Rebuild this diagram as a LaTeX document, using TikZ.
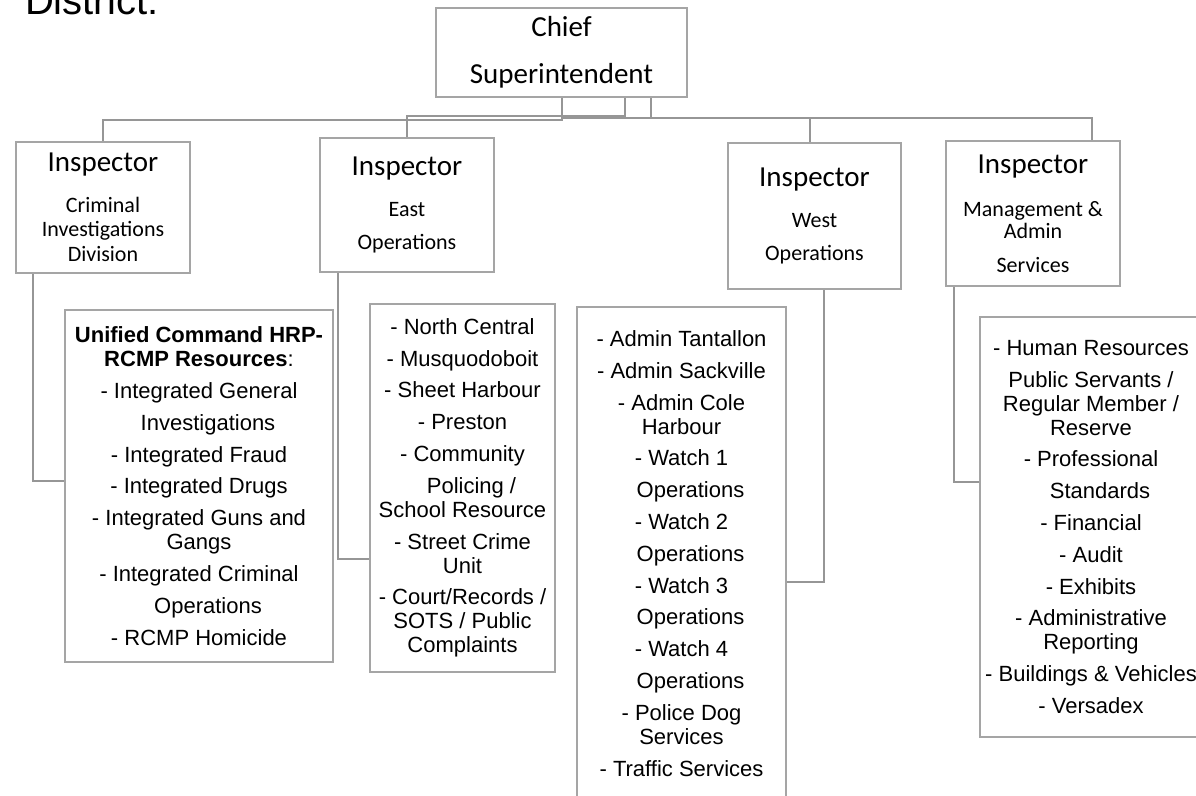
\documentclass[tikz,border=0pt]{standalone}
\usepackage{fontspec}
\setmainfont{Liberation Sans}
\newfontfamily\calibri{Carlito}
\definecolor{boxgray}{RGB}{165,165,165}
\definecolor{linkgray}{RGB}{150,150,150}
\tikzset{
  headbox/.style={draw=boxgray, line width=1.2pt, inner sep=0pt, align=center,
    font=\calibri\fontsize{11}{12}\selectfont},
  listbox/.style={draw=boxgray, line width=1.2pt, inner sep=0pt, align=center,
    font=\fontsize{11}{12}\selectfont},
  link/.style={draw=linkgray, line width=1.2pt}
}
\newcommand{\insp}{{\fontsize{14.5}{12}\selectfont Inspector}}
\newcommand{\indl}{\hspace*{9pt}}

\begin{document}
\begin{tikzpicture}[x=0.5pt, y=-0.5pt]
\useasboundingbox (0,0) rectangle (1196,796);

\node[anchor=base west, font=\fontsize{20}{24}\selectfont] (district) at (18,15) {District:};

% chief
\node[headbox, minimum width=125.5pt, minimum height=44.5pt,
  font=\calibri\fontsize{14.5}{23.5}\selectfont] (chief) at (561.5,52.5) {Chief\\Superintendent};

% inspectors
\node[headbox, minimum width=87pt, minimum height=65.5pt] (cid) at (103,207.5)
  {\insp\\[8.5pt]Criminal\\Investigations\\[0.5pt]Division};
\node[headbox, minimum width=87pt, minimum height=67pt] (east) at (407,205)
  {\insp\\[8.5pt]East\\[4.5pt]Operations};
\node[headbox, minimum width=86.5pt, minimum height=73pt] (west) at (814.5,216)
  {\insp\\[8.5pt]West\\[4.5pt]Operations};
\node[headbox, minimum width=87pt, minimum height=72.5pt] (mgmt) at (1033,213.5)
  {\insp\\[9.5pt]Management \&\\[-1pt]Admin\\[5pt]Services};

% units
\node[listbox, minimum width=134pt, minimum height=176pt] (cidlist) at (199,486)
  {\textbf{Unified Command HRP-}\\\textbf{RCMP Resources}:\\[3.9pt]- Integrated General\\[3.9pt]\indl Investigations\\[3.9pt]- Integrated Fraud\\[3.9pt]- Integrated Drugs\\[3.9pt]- Integrated Guns and\\Gangs\\[3.9pt]- Integrated Criminal\\[3.9pt]\indl Operations\\[3.9pt]- RCMP Homicide};
\node[listbox, minimum width=92.5pt, minimum height=184pt] (eastlist) at (462.5,488)
  {- North Central\\[3.9pt]- Musquodoboit\\[3.9pt]- Sheet Harbour\\[3.9pt]- Preston\\[3.9pt]- Community\\[3.9pt]\indl Policing /\\School Resource\\[3.9pt]- Street Crime\\Unit\\[3.9pt]- Court/Records /\\SOTS / Public\\Complaints};
\node[listbox, minimum width=104.5pt, minimum height=246.5pt] (westlist) at (681.5,553.5)
  {- Admin Tantallon\\[3.9pt]- Admin Sackville\\[3.9pt]- Admin Cole\\Harbour\\[3.9pt]- Watch 1\\[3.9pt]\indl Operations\\[3.9pt]- Watch 2\\[3.9pt]\indl Operations\\[3.9pt]- Watch 3\\[3.9pt]\indl Operations\\[3.9pt]- Watch 4\\[3.9pt]\indl Operations\\[3.9pt]- Police Dog\\Services\\[3.9pt]- Traffic Services};
\node[listbox, minimum width=111pt, minimum height=210pt] (mgmtlist) at (1091,527)
  {- Human Resources\\[3.9pt]Public Servants /\\Regular Member /\\Reserve\\[3.9pt]- Professional\\[3.9pt]\indl Standards\\[3.9pt]- Financial\\[3.9pt]- Audit\\[3.9pt]- Exhibits\\[3.9pt]- Administrative\\Reporting\\[3.9pt]- Buildings \& Vehicles\\[3.9pt]- Versadex};

% chief to inspectors
\draw[link] (562,0 |- chief.south) -- (562,120) -| (cid.north);
\draw[link] (625,0 |- chief.south) -- (625,116) -| (east.north);
\draw[link] (562,0 |- chief.south) -- (562,118) -| (810,0 |- west.north);
\draw[link] (651,0 |- chief.south) -- (651,118) -| (1092,0 |- mgmt.north);

% inspectors to units
\draw[link] (33,0 |- cid.south) |- (cidlist.west |- 0,481);
\draw[link] (338,0 |- east.south) |- (eastlist.west |- 0,559);
\draw[link] (824,0 |- west.south) |- (westlist.east |- 0,582);
\draw[link] (954,0 |- mgmt.south) |- (mgmtlist.west |- 0,482);
\end{tikzpicture}
\end{document}
